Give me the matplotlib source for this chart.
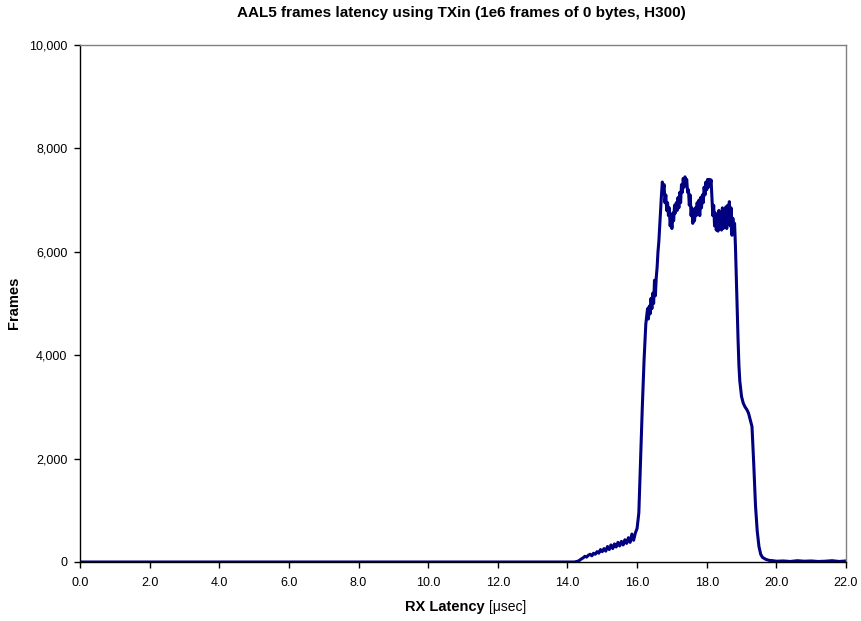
import matplotlib
matplotlib.use("Agg")
import matplotlib.pyplot as plt
from matplotlib.ticker import FuncFormatter

plt.rcParams['font.family'] = ['Liberation Sans', 'DejaVu Sans']

# Baseline + slow rise (before the sharp edge)
rise_x = [
    0.0, 14.2, 14.3, 14.35, 14.4, 14.45, 14.5, 14.55, 14.6, 14.65, 14.7, 14.75,
    14.8, 14.85, 14.9, 14.95, 15.0, 15.05, 15.1, 15.15, 15.2, 15.25, 15.3, 15.35,
    15.4, 15.45, 15.5, 15.55, 15.6, 15.65, 15.7, 15.75, 15.8, 15.85, 15.9, 15.95,
    16.0, 16.05, 16.1, 16.15, 16.2, 16.25,
]
rise_y = [
    0, 0, 15, 35, 60, 80, 110, 95, 130, 150, 120, 170,
    150, 200, 170, 240, 200, 260, 210, 300, 240, 330, 260, 350,
    290, 380, 310, 400, 330, 430, 360, 470, 380, 540, 420, 560,
    650, 950, 2000, 3000, 3900, 4600,
]

# Plateau (fine bins)
plateau_x = [
    16.300, 16.325, 16.350, 16.375, 16.400, 16.425, 16.450, 16.475, 16.500, 16.525,
    16.550, 16.575, 16.600, 16.625, 16.650, 16.675, 16.700, 16.725, 16.750, 16.775,
    16.800, 16.825, 16.850, 16.875, 16.900, 16.925, 16.950, 16.975, 17.000, 17.025,
    17.050, 17.075, 17.100, 17.125, 17.150, 17.175, 17.200, 17.225, 17.250, 17.275,
    17.300, 17.325, 17.350, 17.375, 17.400, 17.425, 17.450, 17.475, 17.500, 17.525,
    17.550, 17.575, 17.600, 17.625, 17.650, 17.675, 17.700, 17.725, 17.750, 17.775,
    17.800, 17.825, 17.850, 17.875, 17.900, 17.925, 17.950, 17.975, 18.000, 18.025,
    18.050, 18.075, 18.100, 18.125, 18.150, 18.175, 18.200, 18.225, 18.250, 18.275,
    18.300, 18.325, 18.350, 18.375, 18.400, 18.425, 18.450, 18.475, 18.500, 18.525,
    18.550, 18.575, 18.600, 18.625, 18.650, 18.675, 18.700, 18.725, 18.750, 18.775,
    18.800, 18.825, 18.850, 18.875, 18.900, 18.925, 18.950,
]
plateau_y = [
    4900, 4700, 4950, 4800, 5100, 4900, 5200, 5000, 5450, 5150,
    5500, 5700, 6000, 6200, 6500, 6800, 7100, 7350, 7200, 7300,
    6950, 7100, 6800, 6950, 6700, 6850, 6500, 6700, 6450, 6750,
    6600, 6900, 6750, 6950, 6800, 7050, 6850, 7150, 6950, 7300,
    7150, 7420, 7250, 7450, 7300, 7400, 7150, 7200, 6900, 7100,
    6700, 6850, 6550, 6750, 6600, 6850, 6700, 6950, 6750, 7000,
    6700, 7050, 6850, 7100, 6950, 7250, 7100, 7350, 7200, 7400,
    7250, 7400, 7300, 7390, 7050, 6700, 6900, 6500, 6750, 6420,
    6650, 6400, 6800, 6500, 6700, 6420, 6850, 6450, 6800, 6500,
    6870, 6450, 6900, 6600, 6970, 6500, 6850, 6320, 6650, 6450,
    6550, 6100, 5500, 4900, 4300, 3800, 3500,
]

# Fall and tail
fall_x = [
    19.0, 19.05, 19.1, 19.15, 19.2, 19.25, 19.3, 19.35, 19.4, 19.45, 19.5, 19.55,
    19.6, 19.7, 19.8, 19.9, 20.0, 20.2, 20.4, 20.6, 20.8, 21.0, 21.2, 21.4,
    21.6, 21.8, 22.0,
]
fall_y = [
    3200, 3070, 3000, 2950, 2880, 2750, 2620, 1900, 1100, 600, 300, 150,
    90, 50, 30, 25, 15, 20, 10, 25, 15, 20, 10, 15,
    25, 10, 20,
]

latency_us = rise_x + plateau_x + fall_x
frames = rise_y + plateau_y + fall_y

x_ticks = [0, 2, 4, 6, 8, 10, 12, 14, 16, 18, 20, 22]
y_ticks = [0, 2000, 4000, 6000, 8000, 10000]

fig = plt.figure(figsize=(8.62, 6.21), dpi=100)
ax = fig.add_axes([80 / 862, 59 / 621, 766 / 862, 517 / 621])

ax.plot(latency_us, frames, color='#000080', linewidth=2.2, solid_joinstyle='round')

ax.set_xlim(0, 22)
ax.set_ylim(0, 10000)
ax.set_xticks(x_ticks)
ax.set_yticks(y_ticks)
ax.xaxis.set_major_formatter(FuncFormatter(lambda v, p: f"{v:.1f}"))
ax.yaxis.set_major_formatter(FuncFormatter(lambda v, p: f"{int(v):,}"))
ax.tick_params(axis='both', direction='out', length=4, width=1, labelsize=9,
               colors='black', pad=5)
ax.tick_params(axis='x', pad=7)

for side in ['top', 'right']:
    ax.spines[side].set_color('#808080')
    ax.spines[side].set_linewidth(1)
for side in ['left', 'bottom']:
    ax.spines[side].set_color('black')
    ax.spines[side].set_linewidth(1)

fig.text(461 / 862, 1 - 13 / 621, 'AAL5 frames latency using TXin (1e6 frames of 0 bytes, H300)',
         ha='center', va='center', fontsize=11, fontweight='bold')
fig.text(14 / 862, 1 - 303 / 621, 'Frames', rotation=90, ha='center', va='center',
         fontsize=10.5, fontweight='bold')
fig.text(489 / 862, 1 - 607 / 621, 'RX Latency ', ha='right', va='center',
         fontsize=10.5, fontweight='bold')
fig.text(489 / 862, 1 - 607 / 621, '[\u03bcsec]', ha='left', va='center', fontsize=10)

fig.savefig('out.png', dpi=100)
